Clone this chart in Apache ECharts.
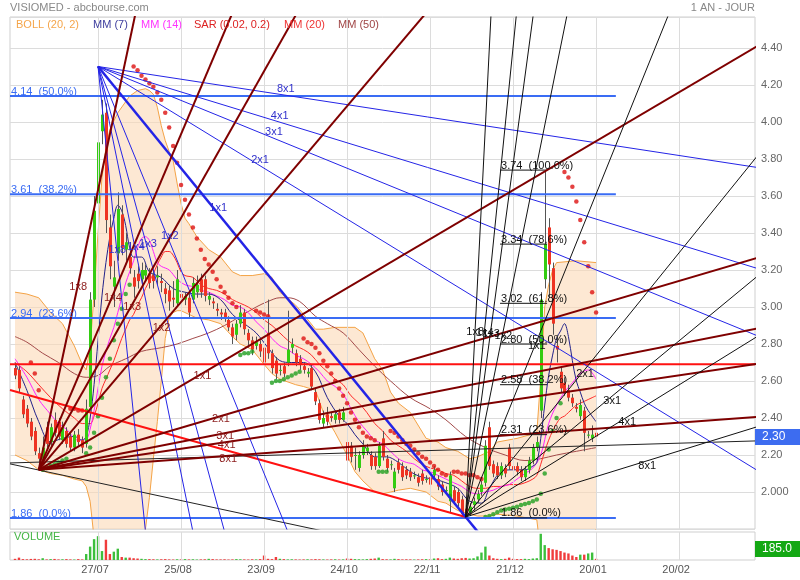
<!DOCTYPE html>
<html>
<head>
<meta charset="utf-8">
<title>VISIOMED</title>
<script src="https://cdn.jsdelivr.net/npm/echarts@6.0.0/dist/echarts.min.js"></script>
<style>
html,body{margin:0;padding:0;background:#ffffff;}
#chart{width:800px;height:580px;}
</style>
</head>
<body>
<div id="chart"></div>
<script>
// ---------------- DATA ----------------
const firstDay = -21; // day index of the first candle (day 0 = 27/07)
const opens = [
2.67,2.66,2.50,2.45,2.38,2.33,2.21,2.18,2.35,2.27,2.39,2.38,2.28,2.33,2.30,2.24,2.31,2.28,2.26,2.46,3.04,
3.56,3.95,4.05,3.43,3.11,3.29,3.50,3.31,3.27,3.16,3.18,3.15,3.17,3.18,3.17,3.16,3.14,3.10,3.09,3.05,3.02,
3.07,3.04,3.05,3.04,3.08,3.15,3.15,3.04,3.03,2.99,2.97,2.97,2.93,2.89,2.85,2.91,2.97,2.86,2.82,2.79,2.80,
2.78,2.86,2.75,2.71,2.66,2.68,2.70,2.78,2.75,2.72,2.68,2.64,2.67,2.54,2.48,2.37,2.42,2.41,2.39,2.43,2.39,
2.27,2.25,2.20,2.13,2.20,2.22,2.20,2.19,2.14,2.29,2.18,2.15,2.02,2.16,2.14,2.12,2.11,2.09,2.08,2.10,2.07,
2.08,2.09,2.07,2.04,2.01,1.95,2.01,2.00,1.96,1.91,1.89,1.93,1.96,2.00,2.05,2.35,2.15,2.14,2.09,2.13,2.24,
2.14,2.14,2.12,2.08,2.12,2.17,2.24,2.44,3.15,3.43,3.21,2.79,2.65,2.59,2.55,2.51,2.46,2.41,2.44,2.31,2.29,2.32];
const closes = [
2.63,2.56,2.42,2.37,2.30,2.22,2.18,2.24,2.26,2.35,2.32,2.30,2.35,2.26,2.24,2.31,2.27,2.24,2.45,3.04,3.52,
3.89,4.04,3.47,3.22,3.16,3.53,3.32,3.35,3.21,3.11,3.14,3.20,3.20,3.13,3.14,3.17,3.13,3.07,3.03,3.04,3.15,
3.05,3.06,2.97,3.13,3.12,3.08,3.06,3.06,3.02,2.98,2.96,2.94,2.89,2.84,2.91,2.97,2.88,2.82,2.77,2.81,2.76,
2.70,2.75,2.67,2.64,2.66,2.64,2.77,2.80,2.70,2.69,2.66,2.65,2.57,2.49,2.39,2.40,2.38,2.40,2.42,2.39,2.43,
2.17,2.19,2.20,2.20,2.25,2.24,2.14,2.14,2.25,2.19,2.13,2.15,2.11,2.12,2.08,2.09,2.08,2.09,2.05,2.06,2.07,
2.04,2.12,2.03,2.00,2.01,2.09,1.95,1.94,1.88,1.88,1.92,1.95,1.99,2.04,2.25,2.14,2.10,2.09,2.14,2.10,2.14,
2.12,2.11,2.08,2.12,2.17,2.24,2.27,3.04,3.34,3.23,2.91,2.77,2.56,2.54,2.51,2.48,2.45,2.47,2.32,2.31,2.31,2.30];
const highs = [
2.69,2.68,2.52,2.47,2.40,2.35,2.24,2.30,2.38,2.37,2.43,2.40,2.38,2.35,2.32,2.33,2.34,2.30,2.50,3.08,3.60,
4.30,4.12,4.10,3.50,3.25,3.62,3.55,3.40,3.30,3.20,3.22,3.24,3.23,3.21,3.20,3.22,3.18,3.13,3.12,3.14,3.20,
3.10,3.08,3.07,3.16,3.17,3.18,3.17,3.08,3.05,3.02,2.99,2.99,2.95,2.91,2.93,3.01,2.99,2.88,2.84,2.84,2.82,
2.80,3.04,2.77,2.73,2.69,2.70,2.98,2.83,2.77,2.74,2.70,2.67,2.69,2.56,2.50,2.44,2.46,2.43,2.44,2.45,2.46,
2.33,2.27,2.24,2.22,2.28,2.26,2.22,2.21,2.27,2.33,2.20,2.17,2.13,2.18,2.16,2.14,2.13,2.11,2.10,2.12,2.09,
2.10,2.14,2.09,2.06,2.03,2.11,2.03,2.02,1.98,1.93,1.94,1.97,2.01,2.06,2.28,2.38,2.17,2.16,2.16,2.15,2.26,
2.16,2.16,2.14,2.14,2.19,2.26,2.30,3.08,3.74,3.48,3.24,2.85,2.68,2.62,2.58,2.53,2.48,2.50,2.46,2.33,2.36,2.34];
const lows = [
2.61,2.54,2.40,2.35,2.28,2.20,2.12,2.15,2.24,2.25,2.30,2.28,2.26,2.24,2.22,2.22,2.25,2.21,2.24,2.44,3.00,
3.50,3.88,3.40,3.15,3.00,3.25,3.28,3.25,3.18,3.05,3.10,3.12,3.14,3.10,3.10,3.12,3.08,3.02,2.98,3.00,3.00,
3.00,3.01,2.94,3.02,3.05,3.05,3.03,3.01,2.99,2.95,2.93,2.92,2.87,2.80,2.82,2.89,2.85,2.78,2.74,2.77,2.73,
2.67,2.72,2.64,2.61,2.63,2.62,2.68,2.75,2.68,2.66,2.64,2.62,2.55,2.47,2.37,2.35,2.36,2.38,2.37,2.37,2.38,
2.15,2.16,2.12,2.11,2.18,2.20,2.12,2.12,2.13,2.17,2.11,2.12,2.00,2.10,2.06,2.07,2.06,2.07,2.03,2.04,2.05,
2.02,2.07,2.01,1.98,1.99,1.89,1.93,1.92,1.87,1.865,1.87,1.90,1.94,1.98,2.03,2.12,2.08,2.07,2.07,2.08,2.12,
2.10,2.09,2.06,2.06,2.10,2.15,2.22,2.40,3.10,3.05,2.85,2.70,2.54,2.52,2.49,2.46,2.43,2.39,2.22,2.29,2.27,2.28];
const volumes = [
20,40,15,12,18,20,12,30,10,15,18,10,12,15,10,8,15,10,
100,225,350,400,150,340,100,140,190,50,40,40,
30,25,20,15,15,12,10,12,15,10,8,12,10,15,10,12,8,10,12,20,15,10,
10,12,8,10,15,12,10,8,12,10,15,75,20,15,50,20,15,10,12,10,
8,10,12,10,15,12,10,8,10,12,8,10,25,20,15,12,10,15,20,25,
40,15,12,10,20,15,10,12,10,8,10,12,15,10,25,30,15,20,40,25,
20,30,35,25,30,60,125,225,75,30,20,15,20,40,20,15,15,20,15,25,30,
440,250,200,180,170,150,125,110,75,50,90,90,110,125,20];
const sar = [
null,null,null,null,
2.70,2.64,2.55,
2.12,2.13,2.14,2.15,2.16,2.17,2.18,
2.45,2.45,2.44,2.44,
2.21,2.24,2.32,2.41,2.51,2.62,2.72,2.82,2.91,2.99,3.07,3.12,
4.30,4.28,4.25,4.23,4.21,4.19,4.16,4.12,4.05,3.97,3.87,3.78,3.66,3.58,3.50,3.43,3.37,3.31,3.26,3.23,3.19,3.15,3.11,3.08,3.05,3.02,3.00,
2.74,2.75,2.75,2.76,
2.98,2.97,2.96,2.95,
2.59,2.60,2.60,2.61,2.62,2.63,2.64,2.65,
2.83,2.81,2.80,2.78,2.75,2.71,2.68,2.64,2.60,2.56,2.52,2.48,2.43,2.39,2.35,2.32,2.30,2.29,2.28,
2.11,2.11,2.11,
2.33,2.32,2.30,2.28,2.26,2.25,2.23,2.21,2.19,2.18,2.16,2.14,2.12,2.10,2.09,
1.98,
2.11,2.11,2.10,2.10,2.09,2.09,2.08,2.07,
1.865,1.87,1.88,1.89,1.90,1.905,1.91,1.915,1.92,1.93,1.935,1.94,1.95,1.96,1.99,2.10,2.23,2.33,2.40,2.48,
3.73,3.70,3.65,3.57,3.47,3.35,3.22,3.08,2.97];
// Bollinger [day, upper, lower]
const boll = [
[-21,3.08,2.20],[-18,3.07,2.17],[-15,3.05,2.12],[-12,2.97,2.10],[-9,2.91,2.09],[-6,2.79,2.07],[-4,2.69,2.06],
[-3,2.66,2.03],[-2,2.78,1.95],[-1,3.07,1.75],[0,3.40,1.55],[1,3.70,1.42],[2,3.86,1.37],[3,3.96,1.36],[5,4.05,1.45],
[8,4.14,1.55],[10,4.17,1.66],[12,4.18,1.80],[13,4.17,1.97],[14,4.15,2.18],[15,4.08,2.38],[16,3.98,2.60],[17,3.90,2.83],
[18,3.84,2.94],[19,3.79,2.97],[20,3.67,2.98],[21,3.56,2.98],[22,3.48,2.97],[23,3.45,2.96],[25,3.38,2.94],[28,3.31,2.93],
[31,3.27,2.91],[34,3.19,2.84],[36,3.17,2.80],[39,3.17,2.77],[42,3.18,2.69],[44,3.16,2.64],[46,3.08,2.61],[50,3.01,2.58],
[52,2.96,2.57],[55,2.88,2.55],[57,2.88,2.43],[60,2.89,2.32],[63,2.89,2.20],[65,2.89,2.11],[67,2.86,2.06],[70,2.72,2.00],
[72,2.66,1.99],[74,2.54,2.00],[76,2.48,2.01],[79,2.43,2.02],[83,2.29,2.00],[86,2.27,1.95],[88,2.24,1.94],[91,2.22,1.90],
[94,2.18,1.88],[96,2.19,1.87],[99,2.22,1.87],[101,2.27,1.88],[106,2.29,1.87],[111,2.32,1.85],[112,2.62,1.67],[113,3.00,1.44],
[114,3.12,1.40],[115,3.20,1.45],[116,3.24,1.50],[121,3.25,1.68],[126,3.24,1.80]];
const mm7 = [
[-21,2.70],[-18,2.55],[-15,2.38],[-12,2.27],[-9,2.29],[-6,2.30],[-4,2.28],[-3,2.30],[-2,2.40],[-1,2.58],
[0,2.82],[1,3.06],[2,3.24],[3,3.38],[4,3.48],[5,3.55],[6,3.52],[7,3.44],[8,3.32],[9,3.27],
[11,3.27],[13,3.19],[16,3.16],[19,3.10],[22,3.08],[25,3.07],[28,3.07],[31,3.04],[34,2.96],[37,2.91],
[40,2.86],[43,2.78],[46,2.71],[49,2.70],[52,2.70],[55,2.65],[58,2.51],[61,2.41],[63,2.37],[65,2.31],
[67,2.26],[70,2.19],[73,2.19],[76,2.16],[79,2.11],[82,2.08],[85,2.07],[88,2.05],[91,2.02],[94,1.95],
[97,1.94],[99,2.02],[102,2.11],[105,2.12],[108,2.12],[110,2.14],[111,2.16],[112,2.29],[113,2.47],[114,2.63],
[115,2.74],[116,2.83],[117,2.87],[118,2.91],[119,2.84],[120,2.71],[121,2.60],[122,2.54],[123,2.48],[124,2.44],[126,2.38]];
const mm14 = [
[-21,2.72],[-18,2.62],[-15,2.50],[-12,2.42],[-10,2.37],[-8,2.34],[-5,2.28],[-3,2.285],[-2,2.34],[-1,2.44],
[0,2.56],[1,2.68],[2,2.76],[3,2.83],[4,2.89],[5,2.97],[6,3.05],[7,3.13],[8,3.19],[9,3.25],[10,3.32],[11,3.37],
[12,3.38],[13,3.36],[14,3.30],[15,3.24],[16,3.22],
[18,3.20],[20,3.15],[22,3.12],[24,3.11],[26,3.09],[28,3.08],[30,3.06],[32,3.04],[34,3.01],[36,3.00],
[38,2.97],[40,2.92],[42,2.88],[44,2.83],[46,2.79],[48,2.77],[50,2.74],[52,2.72],[54,2.69],[56,2.65],
[58,2.60],[60,2.57],[62,2.53],[64,2.45],[66,2.38],[68,2.33],[70,2.28],[72,2.26],[74,2.22],[76,2.18],
[78,2.16],[80,2.15],[82,2.12],[84,2.11],[86,2.09],[88,2.07],[90,2.05],[92,2.03],[94,2.00],[96,1.99],
[98,2.00],[100,2.01],[102,2.03],[104,2.04],[106,2.07],[108,2.10],[110,2.13],[112,2.20],[114,2.37],[116,2.47],
[118,2.54],[120,2.59],[122,2.64],[124,2.66],[126,2.61]];
const mm20 = [
[-21,2.70],[-18,2.65],[-15,2.58],[-12,2.51],[-9,2.45],[-6,2.40],[-4,2.37],[-2,2.37],[-1,2.41],[0,2.48],
[1,2.56],[2,2.61],[3,2.66],[4,2.71],[5,2.77],[6,2.83],[7,2.88],[8,2.93],[9,2.96],[10,3.01],[11,3.05],
[12,3.10],[13,3.14],[14,3.18],[15,3.23],[16,3.27],[17,3.30],[18,3.30],[19,3.28],[20,3.24],[21,3.19],
[22,3.17],[24,3.16],[26,3.12],[28,3.10],[30,3.09],[32,3.07],[34,3.04],[36,3.02],[38,3.00],[40,2.97],
[42,2.93],[44,2.90],[46,2.86],[48,2.82],[50,2.79],[52,2.77],[54,2.74],[56,2.69],[58,2.65],[60,2.61],
[62,2.58],[64,2.52],[66,2.48],[68,2.43],[70,2.37],[72,2.33],[74,2.28],[76,2.25],[78,2.22],[80,2.18],
[82,2.15],[84,2.13],[86,2.12],[88,2.10],[90,2.09],[92,2.06],[94,2.03],[96,2.02],[98,2.02],[100,2.03],
[102,2.03],[104,2.04],[106,2.04],[108,2.05],[110,2.07],[111,2.09],[112,2.15],[113,2.22],[114,2.28],[115,2.33],
[116,2.37],[117,2.40],[118,2.41],[119,2.43],[120,2.45],[121,2.47],[122,2.48],[123,2.49],[124,2.50],[125,2.51],[126,2.52]];
const mm50 = [
[-21,2.84],[-18,2.81],[-14,2.75],[-10,2.70],[-6,2.64],[-3,2.62],[0,2.63],[3,2.68],[7,2.72],[11,2.76],
[16,2.78],[20,2.80],[24,2.83],[28,2.86],[32,2.90],[36,2.95],[40,3.00],[43,3.03],[46,3.05],[48,3.05],
[51,3.03],[55,2.95],[58,2.91],[62,2.86],[66,2.77],[70,2.68],[74,2.60],[79,2.51],[84,2.45],[88,2.39],
[93,2.30],[98,2.24],[103,2.20],[108,2.17],[112,2.18],[116,2.20],[121,2.22],[126,2.24]];

const dateTicks = [0,21,42,63,84,105,126,147];
const dateLabels = ['27/07','25/08','23/09','24/10','22/11','21/12','20/01','20/02'];
const xMin = -22.27, xMax = 166.2;

// drawing tools
const fibLeftLevels = [4.14, 3.61, 2.94, 1.86];
const fibLeftPct = ['50.0%','38.2%','23.6%','0.0%'];
const fibLeftSpan = [-22.27, 131];
const fibRightLevels = [3.74, 3.34, 3.02, 2.80, 2.58, 2.31, 1.86];
const fibRightPct = ['100.0%','78.6%','61.8%','50.0%','38.2%','23.6%','0.0%'];
const fibRightSpan = [101.7, 113.6];
const redLevel = 2.69;
const redTrend = [[-22.27, 2.551], [93, 1.865]];
const blackTrend1 = [[-22.27, 2.157], [166.2, 2.276]];
const blackTrend2 = [[-22.27, 2.152], [60, 1.775]];
const fanMultipliers = [8, 4, 3, 2, 1, 1/2, 1/3, 1/4, 1/8];
const fanNames = ['1x8','1x4','1x3','1x2','1x1','2x1','3x1','4x1','8x1'];
const blueFan = {origin: [0, 4.30], slope: -0.02618};
const maroonFan = {origin: [-15, 2.12], slope: 0.0126};
const blackFan = {origin: [93, 1.865], slope: 0.0529};
const lastVolumeLabel = 185.0;

// ---------------- CHART ----------------
const FONT = '"Liberation Sans", Arial, Helvetica, sans-serif';
const chart = echarts.init(document.getElementById('chart'), null, {renderer: 'canvas', width: 800, height: 580});
const days = closes.map((c, i) => firstDay + i);

const candleData = days.map((d, i) => [d, opens[i], closes[i], lows[i], highs[i]]);
const volData = days.map((d, i) => ({
  value: [d, volumes[i]],
  itemStyle: {color: closes[i] >= opens[i] ? '#3cbf3c' : '#f03c3c'}
}));
const sarData = [];
sar.forEach((v, i) => {
  if (v == null) return;
  sarData.push({value: [days[i], v], itemStyle: {color: v > closes[i] ? '#dd1111' : '#1f9f1f'}});
});

const series = [];
// vertical grid lines
[0, 1].forEach(g => {
  series.push({
    type: 'line', xAxisIndex: g, yAxisIndex: g, data: [[0, g === 0 ? 3 : 0]], symbol: 'none',
    lineStyle: {opacity: 0}, silent: true, z: 1, animation: false,
    markLine: {silent: true, symbol: ['none', 'none'], animation: false, label: {show: false},
      lineStyle: {color: '#dcdcdc', width: 1, type: 'solid'},
      data: dateTicks.map(d => ({xAxis: d}))}
  });
});
// bollinger band fill (polygon through the upper then lower values)
series.push({
  type: 'custom', data: [[boll[0][0], boll[0][1]]], z: 2, clip: true, silent: true, animation: false,
  renderItem: function (params, api) {
    const pts = [];
    boll.forEach(b => pts.push(api.coord([b[0], b[1]])));
    for (let i = boll.length - 1; i >= 0; i--) pts.push(api.coord([boll[i][0], boll[i][2]]));
    return {type: 'polygon', shape: {points: pts}, style: {fill: '#fbd9b5', opacity: 0.6}};
  }
});
series.push({type: 'line', data: boll.map(b => [b[0], b[1]]), symbol: 'none', silent: true,
  lineStyle: {color: '#f4a346', width: 1}, z: 2, animation: false});
series.push({type: 'line', data: boll.map(b => [b[0], b[2]]), symbol: 'none', silent: true,
  lineStyle: {color: '#f4a346', width: 1}, z: 2, animation: false});
// moving averages
[[mm50, '#a34a4a'], [mm20, '#ff2a2a'], [mm14, '#ff22ff'], [mm7, '#22228a']].forEach(([arr, col]) => {
  series.push({type: 'line', data: arr, symbol: 'none', smooth: 0.35, silent: true,
    lineStyle: {color: col, width: 1}, z: 3, animation: false});
});
// candles
series.push({
  type: 'custom', data: candleData, encode: {x: 0, y: [1, 2, 3, 4]}, z: 4, clip: true, silent: true, animation: false,
  renderItem: function (params, api) {
    const d = api.value(0), o = api.value(1), c = api.value(2), l = api.value(3), h = api.value(4);
    const pO = api.coord([d, o]), pC = api.coord([d, c]), pL = api.coord([d, l]), pH = api.coord([d, h]);
    const cx = Math.round(pO[0]);
    const top = Math.min(pO[1], pC[1]);
    const hh = Math.max(1, Math.abs(pO[1] - pC[1]));
    return {type: 'group', children: [
      {type: 'line', shape: {x1: cx + 0.5, y1: pH[1], x2: cx + 0.5, y2: pL[1]}, style: {stroke: '#555555', lineWidth: 1}},
      {type: 'rect', shape: {x: cx - 1, y: top, width: 3, height: hh}, style: {fill: c >= o ? '#33cc11' : '#ee3322'}}
    ]};
  }
});
// SAR
series.push({type: 'scatter', data: sarData, symbolSize: 4.5, z: 5, silent: true, animation: false});

// horizontal / trend lines
function seg(data, color, width, z) {
  return {type: 'line', data: data, symbol: 'none', silent: true, animation: false,
    lineStyle: {color: color, width: width}, z: z || 6};
}
fibLeftLevels.forEach(v => series.push(seg([[fibLeftSpan[0], v], [fibLeftSpan[1], v]], '#3a6cf4', 2)));
fibRightLevels.forEach(v => series.push(seg([[fibRightSpan[0], v], [fibRightSpan[1], v]], '#111111', 1)));
series.push(seg([[xMin, redLevel], [xMax, redLevel]], '#ff1111', 2));
series.push(seg(redTrend, '#ff1111', 2));
series.push(seg(blackTrend1, '#222222', 1));
series.push(seg(blackTrend2, '#222222', 1));
// fans
const fanReach = 250;
function addFan(fan, color, widthFn) {
  fanMultipliers.forEach((m, i) => {
    series.push(seg([fan.origin, [fan.origin[0] + fanReach, fan.origin[1] + fan.slope * m * fanReach]], color, widthFn(i), 7));
  });
}
addFan(blueFan, '#2424e6', i => (i === 4 ? 2.5 : 1));
addFan(maroonFan, '#7f0000', () => 2);
addFan(blackFan, '#111111', () => 1);

// volume
series.push({type: 'bar', xAxisIndex: 1, yAxisIndex: 1, data: volData, barWidth: 2.4, silent: true, animation: false, z: 3});

const option = {
  backgroundColor: '#ffffff',
  animation: false,
  grid: [
    {left: 10, width: 745, top: 17, height: 512, show: true, borderColor: '#cfcfcf', borderWidth: 1, backgroundColor: 'transparent'},
    {left: 10, width: 745, top: 532, height: 28, show: true, borderColor: '#cfcfcf', borderWidth: 1, backgroundColor: 'transparent'}
  ],
  xAxis: [
    {type: 'value', gridIndex: 0, min: xMin, max: xMax, axisLine: {show: false}, axisTick: {show: false},
      axisLabel: {show: false}, splitLine: {show: false}},
    {type: 'value', gridIndex: 1, min: xMin, max: xMax, axisLine: {show: false}, axisTick: {show: false},
      splitLine: {show: false},
      axisLabel: {customValues: dateTicks, color: '#555555', fontSize: 11, fontFamily: FONT, margin: 4,
        padding: [0, 6, 0, 0],
        formatter: v => { const k = dateTicks.indexOf(Math.round(v)); return k >= 0 ? dateLabels[k] : ''; }}}
  ],
  yAxis: [
    {type: 'value', gridIndex: 0, position: 'right', min: 1.8, max: 4.5676, interval: 0.2,
      axisLine: {show: false}, axisTick: {show: false},
      splitLine: {lineStyle: {color: '#dcdcdc', width: 1}},
      axisLabel: {color: '#666666', fontSize: 11, fontFamily: FONT, margin: 6,
        formatter: v => { const r = Math.round(v * 100) / 100; if (Math.abs(v - r) > 1e-6 || r < 1.99 || r > 4.41) return ''; return r === 2 ? '2.000' : r.toFixed(2); }}},
    {type: 'value', gridIndex: 1, position: 'right', min: 0, max: 470,
      axisLine: {show: false}, axisTick: {show: false}, axisLabel: {show: false}, splitLine: {show: false}}
  ],
  series: series
};
chart.setOption(option);

// ---------------- TEXT OVERLAYS ----------------
const px = (d, p) => chart.convertToPixel({gridIndex: 0}, [d, p]);
const g = [];
function txt(x, y, s, color, opts) {
  opts = opts || {};
  g.push({type: 'text', x: x, y: y, z: 100, silent: true,
    style: {text: s, fill: color, fontSize: opts.size || 11, fontFamily: FONT,
      align: opts.align || 'left', verticalAlign: opts.valign || 'middle', fontWeight: opts.weight || 'normal'}});
}
// header
txt(10, 8, 'VISIOMED - abcbourse.com', '#888888', {size: 11});
txt(755, 8, '1 AN - JOUR', '#888888', {size: 11, align: 'right'});
// legend
const legendItems = [['BOLL (20, 2)', '#f5a54a', 16], ['MM (7)', '#3d3d9e', 93], ['MM (14)', '#ff33ff', 141],
  ['SAR (0.02, 0.2)', '#dd2222', 194], ['MM (20)', '#ee3333', 284], ['MM (50)', '#a04545', 338]];
legendItems.forEach(it => txt(it[2], 25, it[0], it[1], {size: 11}));
txt(14, 537, 'VOLUME', '#44b444', {size: 11});
// fib labels
fibLeftLevels.forEach((v, i) => {
  const p = px(fibLeftSpan[0], v);
  txt(p[0] + 1, p[1] + 1.5, v.toFixed(2) + '  (' + fibLeftPct[i] + ')', '#3a6cf4', {valign: 'bottom'});
});
fibRightLevels.forEach((v, i) => {
  const p = px(fibRightSpan[0], v);
  txt(p[0] + 1, p[1] + 1, v.toFixed(2) + '  (' + fibRightPct[i] + ')', '#111111', {valign: 'bottom'});
});
// fan labels at a fixed pixel distance from the origin
function fanLabels(fan, color, dy) {
  const o = px(fan.origin[0], fan.origin[1]);
  fanMultipliers.forEach((m, i) => {
    const q = px(fan.origin[0] + 10, fan.origin[1] + fan.slope * m * 10);
    const vx = q[0] - o[0], vy = q[1] - o[1];
    const len = Math.sqrt(vx * vx + vy * vy);
    const x = o[0] + vx / len * 190, y = o[1] + vy / len * 190 + dy;
    txt(x, y, fanNames[i], color, {align: 'center'});
  });
}
fanLabels(blueFan, '#3030cc', -6);
fanLabels(maroonFan, '#8b1a1a', 3);
fanLabels(blackFan, '#111111', 5);
// last price marker
const lastP = px(days[days.length - 1], closes[closes.length - 1]);
g.push({type: 'rect', z: 99, silent: true, shape: {x: 755, y: Math.round(lastP[1]) - 8, width: 45, height: 16}, style: {fill: '#3d6cf0'}});
txt(762, Math.round(lastP[1]), closes[closes.length - 1].toFixed(2), '#ffffff', {size: 12});
// volume marker
const vP = chart.convertToPixel({gridIndex: 1}, [xMax, lastVolumeLabel]);
g.push({type: 'rect', z: 99, silent: true, shape: {x: 755, y: Math.round(vP[1]) - 8, width: 45, height: 16}, style: {fill: '#14a814'}});
txt(762, Math.round(vP[1]), lastVolumeLabel.toFixed(1), '#ffffff', {size: 12});

chart.setOption({graphic: g});
</script>
</body>
</html>
